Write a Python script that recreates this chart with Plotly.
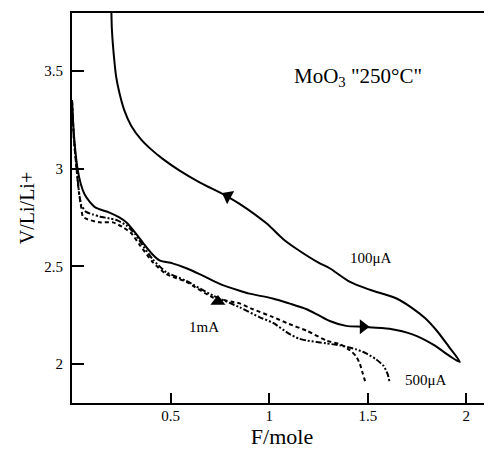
import plotly.graph_objects as go

# 100 µA cycle: discharge then charge (solid)
x_100_dis = [0.0, 0.01, 0.028, 0.045, 0.063, 0.09, 0.12, 0.19, 0.24, 0.275, 0.33, 0.36, 0.40, 0.444,
             0.51, 0.58, 0.647, 0.749, 0.85, 0.90, 1.018, 1.10, 1.19, 1.25, 1.307, 1.39, 1.476, 1.61,
             1.73, 1.83, 1.916, 1.967]
y_100_dis = [3.35, 3.17, 3.0, 2.92, 2.87, 2.83, 2.80, 2.775, 2.75, 2.725, 2.66, 2.62, 2.57, 2.53,
             2.515, 2.49, 2.46, 2.41, 2.375, 2.36, 2.335, 2.31, 2.28, 2.25, 2.22, 2.195, 2.19, 2.18,
             2.15, 2.10, 2.04, 2.01]
x_100_chg = [1.967, 1.91, 1.85, 1.79, 1.72, 1.646, 1.51, 1.41, 1.307, 1.248, 1.138, 1.07, 0.986, 0.85,
             0.774, 0.647, 0.546, 0.46, 0.40, 0.35, 0.30, 0.265, 0.24, 0.224, 0.215, 0.207, 0.202, 0.199]
y_100_chg = [2.01, 2.09, 2.17, 2.235, 2.29, 2.335, 2.38, 2.42, 2.49, 2.52, 2.59, 2.64, 2.72, 2.82,
             2.865, 2.93, 2.99, 3.05, 3.10, 3.15, 3.22, 3.30, 3.39, 3.47, 3.55, 3.64, 3.72, 3.85]

# 500 µA discharge (dash-dot)
x_500 = [0.0, 0.01, 0.025, 0.038, 0.047, 0.07, 0.106, 0.14, 0.19, 0.23, 0.275, 0.32, 0.343, 0.41,
         0.478, 0.58, 0.715, 0.85, 0.95, 1.02, 1.10, 1.15, 1.19, 1.29, 1.36, 1.44, 1.49, 1.54,
         1.58, 1.60, 1.61]
y_500 = [3.35, 3.15, 2.98, 2.86, 2.815, 2.78, 2.765, 2.755, 2.745, 2.735, 2.71, 2.665, 2.63, 2.535,
         2.47, 2.425, 2.35, 2.29, 2.24, 2.21, 2.155, 2.13, 2.12, 2.105, 2.095, 2.075, 2.055, 2.025,
         1.99, 1.95, 1.91]

# 1 mA discharge (dashed)
x_1m = [0.0, 0.01, 0.025, 0.035, 0.047, 0.055, 0.08, 0.14, 0.207, 0.258, 0.30, 0.343, 0.41, 0.478,
        0.58, 0.715, 0.85, 0.918, 1.02, 1.10, 1.19, 1.29, 1.36, 1.41, 1.44, 1.46, 1.475, 1.49]
y_1m = [3.35, 3.15, 2.98, 2.88, 2.80, 2.755, 2.74, 2.725, 2.725, 2.70, 2.67, 2.61, 2.52, 2.46,
        2.42, 2.34, 2.31, 2.28, 2.24, 2.205, 2.17, 2.12, 2.10, 2.07, 2.04, 2.0, 1.95, 1.90]

# direction arrows (points on curves)
arrow_x = [0.79, 1.476, 0.74]
arrow_y = [2.86, 2.19, 2.32]
arrow_symbol = ["triangle-left", "triangle-right", "triangle-up"]
arrow_angle = [28, 0, 0]

x_ticks = [0.5, 1, 1.5, 2]
x_ticktext = ["0.5", "1", "1.5", "2"]
y_ticks = [2, 2.5, 3, 3.5]
y_ticktext = ["2", "2.5", "3", "3.5"]

labels_text = ['MoO<sub>3</sub> "250°C"', "100μA", "500μA", "1mA"]
labels_x = [1.45, 1.515, 1.794, 0.668]
labels_y = [3.47, 2.54, 1.92, 2.19]
labels_size = [21, 15, 15, 15]

FONT = "Liberation Serif, Times New Roman, serif"

fig = go.Figure()
fig.add_trace(go.Scatter(x=x_100_dis + x_100_chg[1:], y=y_100_dis + y_100_chg[1:], mode="lines",
                         line=dict(color="black", width=2, shape="spline", smoothing=0.8),
                         showlegend=False))
fig.add_trace(go.Scatter(x=x_500, y=y_500, mode="lines",
                         line=dict(color="black", width=2, dash="6px,2px,2px,2px,2px,2px",
                                   shape="spline", smoothing=0.6),
                         showlegend=False))
fig.add_trace(go.Scatter(x=x_1m, y=y_1m, mode="lines",
                         line=dict(color="black", width=2, dash="4px,3px",
                                   shape="spline", smoothing=0.6),
                         showlegend=False))
fig.add_trace(go.Scatter(x=arrow_x, y=arrow_y, mode="markers",
                         marker=dict(symbol=arrow_symbol, angle=arrow_angle, size=13, color="black"),
                         showlegend=False))

for t, x, y, s in zip(labels_text, labels_x, labels_y, labels_size):
    fig.add_annotation(x=x, y=y, text=t, showarrow=False,
                       font=dict(family=FONT, size=s, color="black"))

# page body has an 8px margin, so the figure is sized to fill the rest of the window
fig.update_layout(
    width=484, height=441,
    margin=dict(l=64, r=0, t=5, b=46, autoexpand=False),
    paper_bgcolor="white", plot_bgcolor="white",
    font=dict(family=FONT, color="black"),
    xaxis=dict(range=[0, 2.13], showgrid=False, zeroline=False, showline=True, mirror=True,
               linecolor="black", linewidth=2, ticks="inside", ticklen=10, tickwidth=2,
               tickcolor="black", tickvals=x_ticks, ticktext=x_ticktext,
               tickfont=dict(family=FONT, size=15), ticklabelstandoff=-2,
               title=dict(text="F/mole", font=dict(family=FONT, size=22), standoff=10)),
    yaxis=dict(range=[1.80, 3.797], showgrid=False, zeroline=False, showline=True,
               linecolor="black", linewidth=2, ticks="inside", ticklen=12, tickwidth=2,
               tickcolor="black", tickvals=y_ticks, ticktext=y_ticktext,
               tickfont=dict(family=FONT, size=15), ticklabelstandoff=4,
               title=dict(text="V/Li/Li+", font=dict(family=FONT, size=20), standoff=4)),
)

fig.write_html("out.html")
